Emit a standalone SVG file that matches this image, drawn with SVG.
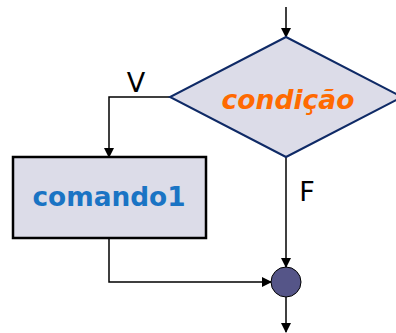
<svg xmlns="http://www.w3.org/2000/svg" width="396" height="333" viewBox="0 0 396 333">
<defs>
<marker id="ah" markerWidth="10" markerHeight="10" refX="9" refY="5" orient="auto" markerUnits="userSpaceOnUse">
<path d="M0,0 L10,5 L0,10 Z" fill="#000"/>
</marker>
<style>
.conn{fill:none;stroke:#000;stroke-width:1.5}
.lbl{font-family:"DejaVu Sans","Liberation Sans",sans-serif;font-size:27px;fill:#000}
</style>
</defs>
<rect width="396" height="333" fill="#fff"/>
<g id="connectors">
<path class="conn" d="M286,7 V37" marker-end="url(#ah)"/>
<path class="conn" d="M170,97 H109 V157" marker-end="url(#ah)"/>
<path class="conn" d="M286,157 V267" marker-end="url(#ah)"/>
<path class="conn" d="M109,238 V282 H271" marker-end="url(#ah)"/>
<path class="conn" d="M286,297 V332" marker-end="url(#ah)"/>
<text class="lbl" x="136" y="92" text-anchor="middle">V</text>
<text class="lbl" x="307" y="201" text-anchor="middle">F</text>
</g>
<g id="condicao">
<polygon points="286,37 402,97 286,157 170,97" fill="#DCDCE8" stroke="#0F2A66" stroke-width="2"/>
<text x="288" y="109" text-anchor="middle" font-family="'DejaVu Sans',Verdana,sans-serif" font-size="26" font-weight="bold" font-style="italic" fill="#FF6A00" textLength="133" lengthAdjust="spacingAndGlyphs">condição</text>
</g>
<g id="comando1">
<rect x="13" y="157" width="193" height="81" fill="#DCDCE8" stroke="#000" stroke-width="2.5"/>
<text x="109" y="206" text-anchor="middle" font-family="'DejaVu Sans',Verdana,sans-serif" font-size="26" font-weight="bold" fill="#1A74C4" textLength="153" lengthAdjust="spacingAndGlyphs">comando1</text>
</g>
<g id="juncao">
<circle cx="286" cy="282" r="15" fill="#555588" stroke="#000" stroke-width="1"/>
</g>
</svg>
